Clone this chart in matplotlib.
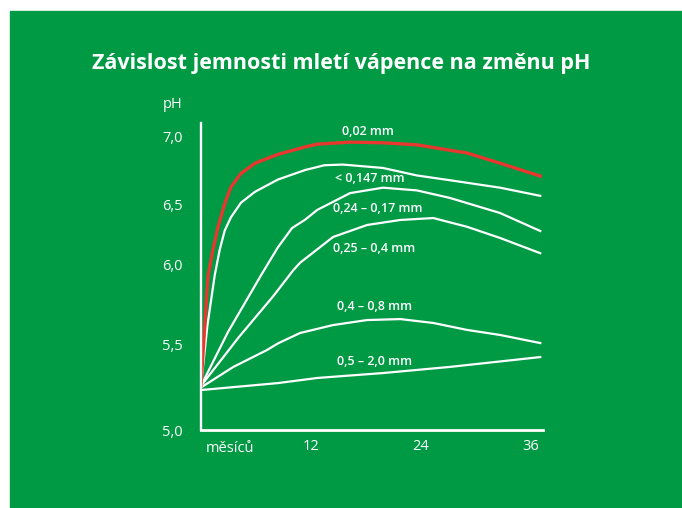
import numpy as np
import matplotlib.pyplot as plt
from matplotlib.patches import Rectangle

plt.rcParams['font.family'] = ['Open Sans', 'DejaVu Sans']

# data (months, pH)
m_002 = [0, 0.33, 0.77, 1.31, 1.86, 2.63, 3.28, 4.38, 5.91, 8.42, 11.4, 12.7, 16.3, 19.9, 23.6, 29.1, 32.7, 37.1]
ph_002 = [5.26, 5.55, 5.93, 6.12, 6.31, 6.51, 6.625, 6.725, 6.80, 6.865, 6.92, 6.94, 6.955, 6.95, 6.935, 6.875, 6.80, 6.705]

m_0147 = [0, 0.7, 1.5, 2.05, 2.6, 3.28, 4.38, 5.91, 8.42, 11.4, 13.5, 15.5, 19.9, 23.6, 27.2, 32.7, 37.1]
ph_0147 = [5.26, 5.62, 5.93, 6.12, 6.28, 6.39, 6.51, 6.59, 6.68, 6.75, 6.785, 6.79, 6.765, 6.71, 6.675, 6.62, 6.56]

m_024 = [0, 2.95, 6.56, 8.42, 9.96, 11.4, 12.7, 16.3, 19.9, 23.6, 27.2, 32.7, 37.1]
ph_024 = [5.26, 5.58, 5.93, 6.14, 6.30, 6.37, 6.45, 6.58, 6.62, 6.60, 6.545, 6.425, 6.275]

m_025 = [0, 4.16, 7.88, 10.07, 10.83, 14.44, 18.16, 21.8, 25.4, 29.1, 32.7, 37.1]
ph_025 = [5.26, 5.55, 5.80, 5.96, 6.01, 6.225, 6.325, 6.367, 6.383, 6.31, 6.217, 6.09]

m_04 = [0, 3.5, 7.2, 8.42, 10.83, 14.44, 18.16, 21.8, 25.4, 29.1, 32.7, 37.1]
ph_04 = [5.25, 5.37, 5.47, 5.51, 5.574, 5.623, 5.654, 5.66, 5.636, 5.593, 5.562, 5.512]

m_05 = [0, 8.42, 12.7, 19.9, 27.2, 37.1]
ph_05 = [5.235, 5.276, 5.306, 5.335, 5.371, 5.429]

labels = ['0,02 mm', '< 0,147 mm', '0,24 – 0,17 mm', '0,25 – 0,4 mm', '0,4 – 0,8 mm', '0,5 – 2,0 mm']
label_m = [18.3, 18.5, 19.3, 18.9, 19.0, 19.0]
label_ph = [7.03, 6.69, 6.46, 6.13, 5.735, 5.40]

yticks = [5.0, 5.5, 6.0, 6.5, 7.0]
ytick_labels = ['5,0', '5,5', '6,0', '6,5', '7,0']
xticks = [12, 24, 36]

# the original axis is not evenly spaced
ph_knots = [4.5, 5.0, 5.5, 6.0, 6.5, 7.0, 7.5]
h_knots = [-85, 0, 85, 166, 226, 294, 362]

def fwd(v):
    return np.interp(v, ph_knots, h_knots)

def inv(h):
    return np.interp(h, h_knots, ph_knots)

GREEN = '#009a44'
RED = '#e8372f'

fig = plt.figure(figsize=(6.82, 5.08), dpi=100)
fig.patches.append(Rectangle((10/682, 0), 1, 497/508, transform=fig.transFigure,
                             color=GREEN, zorder=-10))

ax = fig.add_axes([201/682, 78/508, 342/682, 307/508])
ax.set_facecolor('none')
ax.set_yscale('function', functions=(fwd, inv))

ax.plot(m_05, ph_05, color='white', lw=1.6)
ax.plot(m_04, ph_04, color='white', lw=1.6)
ax.plot(m_025, ph_025, color='white', lw=1.6)
ax.plot(m_024, ph_024, color='white', lw=1.6)
ax.plot(m_0147, ph_0147, color='white', lw=1.6)
ax.plot(m_002, ph_002, color=RED, lw=2.4)

for t, x, y in zip(labels, label_m, label_ph):
    ax.text(x, y, t, color='white', fontsize=9, fontweight='semibold',
            ha='center', va='center')

ax.set_xlim(0, 37.4)
ax.set_ylim(5.0, inv(307))

for s in ['top', 'right']:
    ax.spines[s].set_visible(False)
ax.spines['left'].set_color('white')
ax.spines['left'].set_linewidth(1.7)
ax.spines['bottom'].set_color('white')
ax.spines['bottom'].set_linewidth(2.0)

ax.set_yticks(yticks)
ax.set_yticklabels(ytick_labels)
ax.set_xticks(xticks)
ax.set_xticklabels([str(v) for v in xticks])
ax.tick_params(length=0, colors='white', labelsize=10.5)
ax.tick_params(axis='y', pad=13)
ax.tick_params(axis='x', pad=6.5)
ax.minorticks_off()

ax.text(3.2, -22.5/307, 'měsíců', transform=ax.get_xaxis_transform(),
        color='white', fontsize=10.5, ha='center', va='baseline')

fig.text(173/682, 1 - 105/508, 'pH', color='white', fontsize=10.5, ha='center', va='center')
fig.text(0.5, 1 - 63/508, 'Závislost jemnosti mletí vápence na změnu pH',
         color='white', fontsize=15.5, fontweight='bold', ha='center', va='center')

fig.savefig('out.png', dpi=100)
